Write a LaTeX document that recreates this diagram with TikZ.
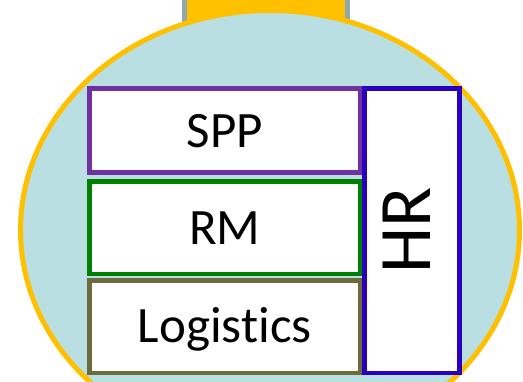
\documentclass[tikz,border=0pt]{standalone}
\usepackage{fontspec}
\setmainfont[Ligatures=NoCommon]{Carlito}
\definecolor{ringorange}{HTML}{FFC000}
\definecolor{ringfill}{HTML}{B9DFE3}
\definecolor{capgray}{HTML}{8FA8AB}
\definecolor{sppcol}{HTML}{7030A0}
\definecolor{rmcol}{HTML}{008000}
\definecolor{logcol}{HTML}{6B6B3B}
\definecolor{hrcol}{HTML}{2A00C0}
\tikzset{
  unitbox/.style={draw, fill=white, line width=4.5pt, inner sep=0pt, rectangle},
  unitlabel/.style={inner sep=0pt, text height=33pt, text depth=0pt, font=\fontsize{51}{60}\selectfont},
  biglabel/.style={inner sep=0pt, text height=47.5pt, text depth=0pt, font=\fontsize{74}{80}\selectfont},
}
\begin{document}
\begin{tikzpicture}[x=1pt,y=-1pt]
\useasboundingbox (0,0) rectangle (523,381);
\clip (0,0) rectangle (523,381);
% top cap
\draw[fill=ringorange, draw=capgray, line width=5pt] (184.5,-10) rectangle (347.5,100);
% ring
\draw[fill=ringfill, draw=ringorange, line width=5pt] (270,230) ellipse [x radius=249.5pt, y radius=219.5pt];
% boxes
\node[unitbox, draw=sppcol, minimum width=271pt, minimum height=84pt] (spp) at (225,130.5) {};
\node[unitbox, draw=rmcol, minimum width=270.5pt, minimum height=92.5pt] (rm) at (224.75,227.75) {};
\node[unitbox, draw=logcol, minimum width=270.5pt, minimum height=92.5pt] (log) at (224.75,326.75) {};
\node[unitbox, draw=hrcol, minimum width=95pt, minimum height=284.5pt] (hr) at (412,230.75) {};
% labels
\node[unitlabel] (spplabel) at (spp.center) {SPP};
\node[unitlabel] (rmlabel) at (rm.center) {RM};
\node[unitlabel] (loglabel) at ([yshift=1pt]log.center) {Logistics};
\node[biglabel, rotate=90] (hrlabel) at (406.5,230.5) {HR};
\end{tikzpicture}
\end{document}
